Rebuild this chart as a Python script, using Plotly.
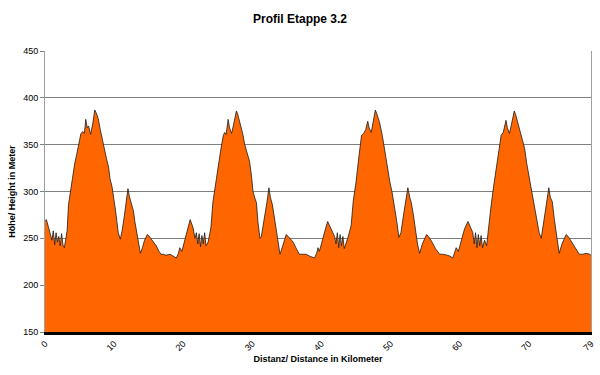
import plotly.graph_objects as go

km = [
    0.0, 0.2, 0.5, 0.8, 1.0, 1.2, 1.4, 1.6, 1.8, 2.0, 2.2, 2.4, 2.6, 2.8, 3.0, 3.2, 3.4, 3.7, 4.0, 4.3,
    4.6, 4.9, 5.2, 5.5, 5.7, 5.9, 6.1, 6.3, 6.6, 6.9, 7.2, 7.4, 7.7, 8.0, 8.4, 8.7, 8.9, 9.2, 9.4, 9.7,
    10.0, 10.2, 10.4, 10.6, 10.9, 11.2, 11.5, 11.8, 12.0, 12.2, 12.5, 12.8, 13.0, 13.3, 13.6, 13.8, 14.1, 14.4, 14.8, 15.0,
    15.3, 15.7, 16.1, 16.5, 16.8, 17.1, 17.5, 18.1, 18.5, 19.0, 19.3, 19.5, 19.8, 20.2, 20.6,
    21.0, 21.4, 21.7, 21.9, 22.1, 22.3, 22.5, 22.7, 22.9, 23.1, 23.3, 23.6, 23.8, 24.0, 24.3, 24.6, 25.0, 25.4, 25.8, 26.0,
    26.2, 26.5, 26.7, 27.0, 27.3, 27.7, 27.9, 28.2, 28.6, 28.9, 29.2, 29.6, 29.9, 30.1, 30.4, 30.6, 30.8, 31.1, 31.3, 31.7,
    32.1, 32.4, 32.6, 32.9, 33.2, 33.5, 33.8, 34.0, 34.4, 34.9, 35.2, 35.6, 35.9, 36.3, 36.8, 37.2, 37.8, 38.3, 39.0, 39.3,
    39.5, 39.7, 40.1, 40.5, 40.9, 41.3, 41.6, 41.9, 42.1, 42.3, 42.5, 42.7, 42.9, 43.1, 43.3, 43.6, 43.8, 44.1, 44.3, 44.6,
    45.0, 45.4, 45.8, 46.1, 46.4, 46.7, 46.9, 47.2, 47.5, 47.8, 48.0, 48.4, 48.8, 49.1, 49.5, 49.9, 50.2, 50.6, 50.9, 51.2,
    51.5, 51.9, 52.2, 52.5, 52.8, 53.0, 53.3, 53.6, 53.9, 54.2, 54.6, 55.2, 55.5, 56.0, 56.5, 57.1, 57.6, 58.2, 58.6, 59.0,
    59.3, 59.5, 59.8, 60.2, 60.7, 61.2, 61.5, 61.9, 62.1, 62.3, 62.5, 62.7, 62.9, 63.1, 63.3, 63.6, 63.9, 64.1, 64.5, 64.9,
    65.3, 65.7, 66.0, 66.3, 66.7, 66.9, 67.2, 67.5, 67.9, 68.1, 68.4, 68.9, 69.4, 69.7, 70.1, 70.4, 70.8, 71.1, 71.5, 71.8,
    72.2, 72.6, 72.9, 73.1, 73.4, 73.7, 74.0, 74.4, 74.8, 75.4, 75.7, 76.2, 76.7, 77.3, 77.8, 78.3, 78.8, 79.0,
]
height_m = [
    268, 270, 262, 255, 248, 258, 243, 256, 246, 252, 242, 255, 243, 240, 248, 258, 286, 300, 318, 330,
    340, 352, 362, 364, 362, 377, 368, 370, 361, 372, 387, 384, 378, 366, 351, 343, 335, 326, 314, 305,
    292, 280, 268, 256, 249, 260, 275, 292, 303, 295, 288, 279, 268, 256, 242, 234, 240, 248, 254, 253,
    250, 246, 242, 236, 233, 233, 232, 233, 231, 229, 234, 240, 236, 248, 260,
    270, 262, 250, 256, 244, 255, 241, 253, 244, 256, 242, 246, 252, 261, 289, 305, 325, 343, 360, 363,
    361, 377, 368, 362, 372, 386, 382, 374, 362, 350, 342, 332, 315, 300, 292, 288, 268, 250, 252, 268,
    288, 304, 294, 286, 270, 257, 240, 233, 242, 254, 252, 249, 246, 240, 233, 233, 233, 231, 229, 234,
    240, 236, 248, 258, 268, 262, 256, 252, 244, 256, 240, 254, 242, 252, 239, 245, 250, 258, 264, 290,
    310, 336, 360, 362, 366, 375, 368, 363, 374, 387, 383, 374, 360, 346, 330, 310, 300, 284, 268, 251,
    256, 276, 292, 304, 293, 288, 275, 258, 244, 234, 244, 254, 252, 246, 239, 233, 233, 232, 231, 229,
    235, 240, 236, 248, 260, 268, 263, 256, 244, 256, 240, 254, 242, 253, 240, 248, 242, 257, 282, 305,
    325, 344, 360, 363, 376, 368, 362, 372, 386, 382, 374, 360, 346, 330, 314, 300, 286, 270, 256, 250,
    268, 290, 304, 294, 289, 270, 252, 234, 244, 254, 252, 246, 240, 233, 233, 234, 233, 232,
]

x_tick_vals = [0, 10, 20, 30, 40, 50, 60, 70, 79]
x_tick_text = ["0", "10", "20", "30", "40", "50", "60", "70", "79"]
y_tick_vals = [150, 200, 250, 300, 350, 400, 450]

fig = go.Figure()
fig.add_trace(go.Scatter(
    x=km, y=height_m, mode="lines", fill="tozeroy",
    fillcolor="#FF6600", line=dict(color="#1a1a1a", width=0.8),
    hoverinfo="x+y", showlegend=False,
))

fig.update_layout(
    width=600, height=375,
    margin=dict(l=45, r=9, t=51, b=43),
    paper_bgcolor="white", plot_bgcolor="white",
    font=dict(family="Arial, Liberation Sans, sans-serif", color="#000000", size=9),
    title=dict(text="<b>Profil Etappe 3.2</b>", x=0.5, xanchor="center", y=0.95, yanchor="middle",
               font=dict(size=12)),
    xaxis=dict(
        range=[0, 79], tickvals=x_tick_vals, ticktext=x_tick_text, tickangle=-45,
        showgrid=False, zeroline=False, showline=True, linecolor="#000000", linewidth=3,
        ticks="", tickfont=dict(size=9), automargin=False,
        title=dict(text="<b>Distanz/ Distance in Kilometer</b>", font=dict(size=9), standoff=4),
    ),
    yaxis=dict(
        range=[150, 450], tickvals=y_tick_vals, showgrid=True, gridcolor="#808080", gridwidth=1,
        zeroline=False, showline=True, linecolor="#a0a0a0", linewidth=1, mirror=True,
        ticks="outside", ticklen=4, tickcolor="#808080", tickfont=dict(size=9), automargin=False,
        title=dict(text="<b>Höhe/ Height in Meter</b>", font=dict(size=9), standoff=6),
    ),
)

fig.write_html("out.html", config={"displayModeBar": False},
               post_script="document.body.style.margin='0';")
